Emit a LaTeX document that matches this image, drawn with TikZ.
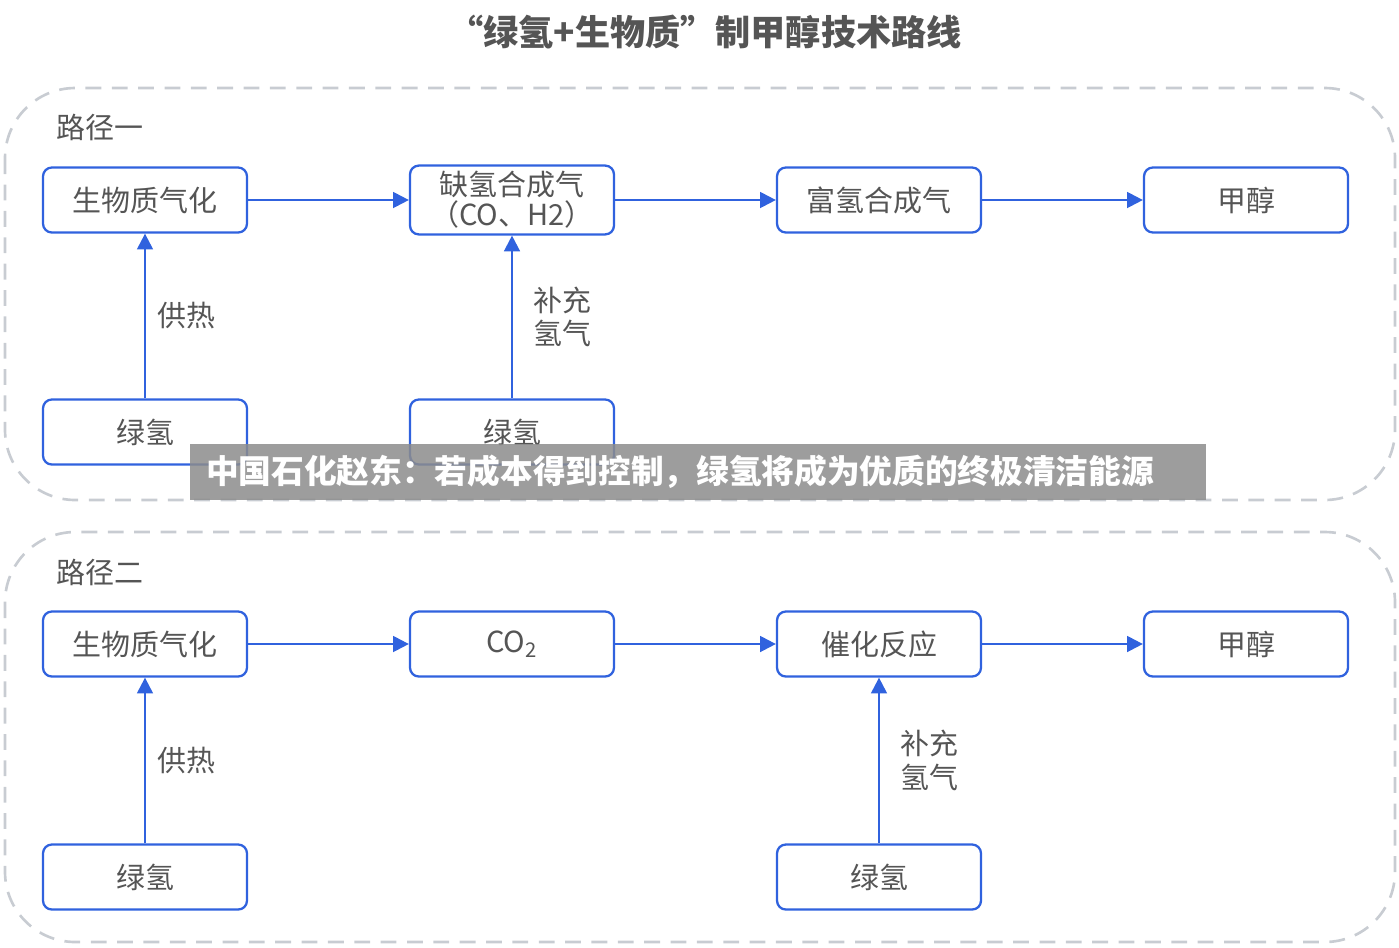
\documentclass[tikz,border=0pt]{standalone}
\usepackage{fontspec}
\setmainfont{Noto Sans CJK SC}
\usetikzlibrary{arrows.meta,positioning}
\definecolor{lineblue}{HTML}{3062DE}
\definecolor{textgray}{HTML}{555555}
\definecolor{dashgray}{HTML}{C8CCD2}

\begin{document}
\begin{tikzpicture}[
    x=0.02cm, y=-0.02cm,
    box/.style={rectangle, rounded corners=5pt, draw=lineblue, line width=1.3pt, fill=white, minimum width=4.08cm, minimum height=1.3cm, text centered, align=center, text=textgray, font=\fontsize{16.5}{16.5}\selectfont},
    group/.style={draw=dashgray, line width=1.5pt, dash pattern=on 9pt off 6pt, rounded corners=40pt},
    arrow/.style={draw=lineblue, line width=1.3pt, -{Triangle[length=9pt, width=9pt]}},
    lbl/.style={text=textgray, font=\fontsize{16.5}{19}\selectfont, align=left}
]
\useasboundingbox (0,0) rectangle (1399,947);

% Title
\node[font=\bfseries\fontsize{20}{20}\selectfont, text=textgray] (title) at (705,32) {“绿氢+生物质”制甲醇技术路线};

% Route one
\draw[group] (5,88) rectangle (1395,500);
\node[lbl, anchor=west] (r1) at (50,127) {路径一};
\node[box] (gas1) at (145,200) {生物质气化};
\node[box, font=\fontsize{16.5}{17}\selectfont] (syn) at (512,200) {缺氢合成气\\（CO、H2）};
\node[box] (rich) at (879,200) {富氢合成气};
\node[box] (meth1) at (1246,200) {甲醇};
\node[box] (h1a) at (145,432) {绿氢};
\node[box] (h1b) at (512,432) {绿氢};

\draw[arrow] (gas1) -- (syn);
\draw[arrow] (syn) -- (rich);
\draw[arrow] (rich) -- (meth1);
\draw[arrow] (h1a) -- node[lbl, right=3pt] {供热} (gas1);
\draw[arrow] (h1b) -- node[lbl, right=8pt] {补充\\氢气} (syn);

% Route two
\draw[group] (5,532) rectangle (1395,942);
\node[lbl, anchor=west] (r2) at (50,572) {路径二};
\node[box] (gas2) at (145,644) {生物质气化};
\node[box] (co2) at (512,644) {CO\textsubscript{2}};
\node[box] (cat) at (879,644) {催化反应};
\node[box] (meth2) at (1246,644) {甲醇};
\node[box] (h2a) at (145,877) {绿氢};
\node[box] (h2b) at (879,877) {绿氢};

\draw[arrow] (gas2) -- (co2);
\draw[arrow] (co2) -- (cat);
\draw[arrow] (cat) -- (meth2);
\draw[arrow] (h2a) -- node[lbl, right=3pt] {供热} (gas2);
\draw[arrow] (h2b) -- node[lbl, right=8pt] {补充\\氢气} (cat);

% Caption banner
\node[fill=black!45, fill opacity=0.85, minimum width=20.32cm, minimum height=1.12cm, inner sep=0pt] (banner) at (698,472) {};
\node[anchor=west, text=white, font=\bfseries\fontsize{18.6}{18.6}\selectfont] (cap) at (200,472) {中国石化赵东：若成本得到控制，绿氢将成为优质的终极清洁能源};
\end{tikzpicture}
\end{document}
